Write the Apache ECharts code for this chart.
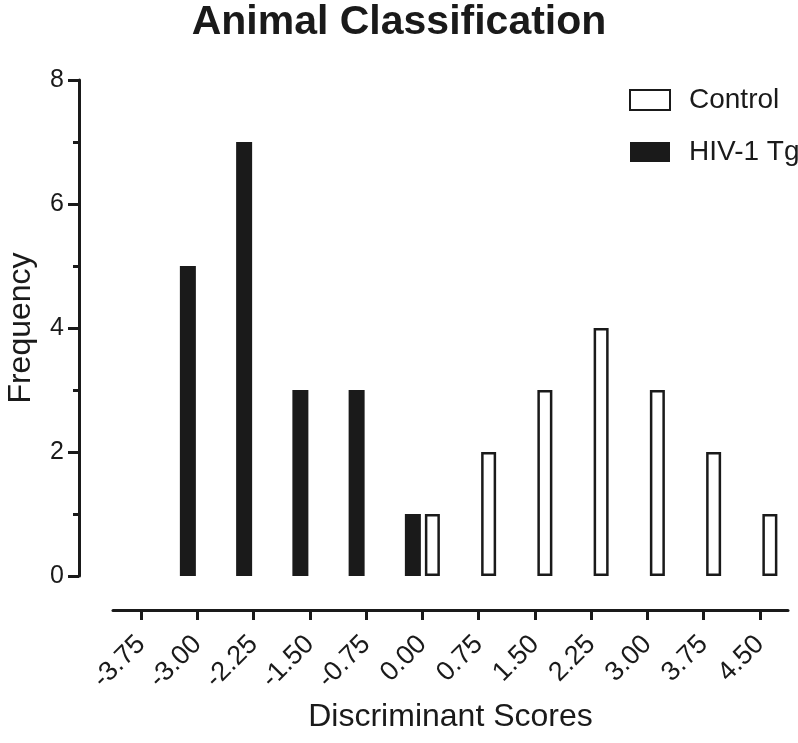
<!DOCTYPE html>
<html>
<head>
<meta charset="utf-8">
<script src="https://cdn.jsdelivr.net/npm/echarts@6/dist/echarts.min.js"></script>
<style>
html,body{margin:0;padding:0;background:#fff;}
#chart{width:798px;height:743px;}
</style>
</head>
<body>
<div id="chart"></div>
<script>
const categories = ['-3.75','-3.00','-2.25','-1.50','-0.75','0.00','0.75','1.50','2.25','3.00','3.75','4.50'];
const hivValues = [null, 5, 7, 3, 3, 1, null, null, null, null, null, null];
const controlValues = [null, null, null, null, null, 1, 2, 3, 4, 3, 2, 1];
const yTicks = [0, 2, 4, 6, 8];

const FONT = '"Liberation Sans", Arial, Helvetica, sans-serif';
const INK = '#1a1a1a';

const chart = echarts.init(document.getElementById('chart'));
chart.setOption({
  backgroundColor: '#ffffff',
  animation: false,
  title: {
    text: 'Animal Classification',
    left: 'center',
    top: -3,
    textStyle: { fontFamily: FONT, fontSize: 41, fontWeight: 'bold', color: INK }
  },
  legend: {
    orient: 'vertical',
    left: 624,
    top: 81,
    itemWidth: 40,
    itemHeight: 20,
    itemGap: 24,
    icon: 'rect',
    data: ['Control', 'HIV-1 Tg'],
    textStyle: { fontFamily: FONT, fontSize: 28, color: INK, padding: [0, 0, 0, 14] }
  },
  grid: { left: 113, right: 10, top: 80, bottom: 167, outerBoundsMode: 'none', containLabel: false },
  xAxis: {
    type: 'category',
    data: categories,
    offset: 34,
    boundaryGap: true,
    name: 'Discriminant Scores',
    nameLocation: 'middle',
    nameGap: 91,
    nameMoveOverlap: false,
    nameTextStyle: { fontFamily: FONT, fontSize: 32, color: INK },
    axisLine: { onZero: false, lineStyle: { color: INK, width: 3 } },
    axisTick: { show: true, alignWithLabel: true, interval: 0, length: 10, lineStyle: { color: INK, width: 3 } },
    axisLabel: { rotate: 45, margin: 30, fontFamily: FONT, fontSize: 27, color: INK, interval: 0 }
  },
  yAxis: {
    type: 'value',
    min: yTicks[0],
    max: yTicks[yTicks.length - 1],
    interval: 2,
    offset: 34,
    name: 'Frequency',
    nameLocation: 'middle',
    nameGap: 42,
    nameMoveOverlap: false,
    nameTextStyle: { fontFamily: FONT, fontSize: 32, color: INK },
    axisLine: { show: true, onZero: false, lineStyle: { color: INK, width: 3 } },
    axisTick: { show: true, length: 11, lineStyle: { color: INK, width: 3 } },
    minorTick: { show: true, splitNumber: 2, length: 6, lineStyle: { color: INK, width: 3 } },
    splitLine: { show: false },
    axisLabel: { margin: 15, fontFamily: FONT, fontSize: 25, color: INK }
  },
  series: [
    {
      name: 'HIV-1 Tg',
      type: 'bar',
      data: hivValues,
      barWidth: 16,
      barGap: '25%',
      itemStyle: { color: INK, borderColor: INK, borderWidth: 0 }
    },
    {
      name: 'Control',
      type: 'bar',
      data: controlValues,
      barWidth: 15,
      barGap: '25%',
      itemStyle: { color: '#ffffff', borderColor: INK, borderWidth: 2.5 }
    }
  ]
});
</script>
</body>
</html>
